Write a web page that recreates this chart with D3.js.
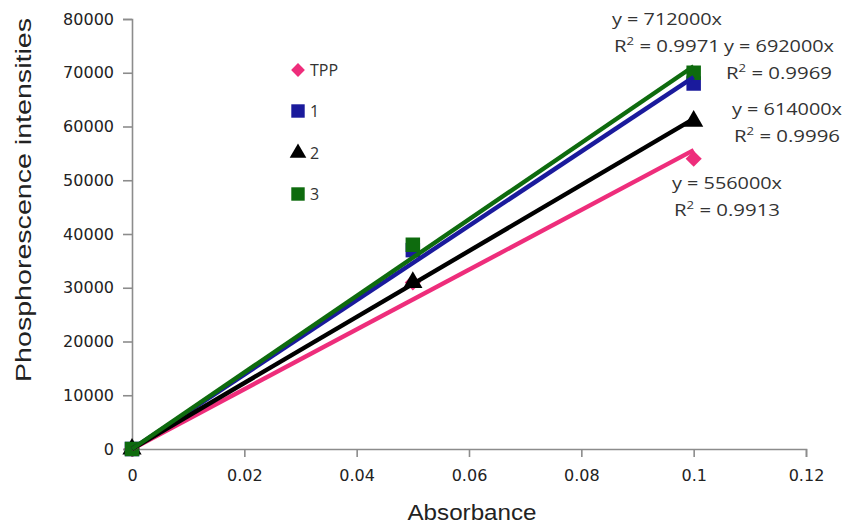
<!DOCTYPE html>
<html><head><meta charset="utf-8">
<script src="https://cdn.jsdelivr.net/npm/d3@7"></script>
<style>body{margin:0;background:#fff}svg{display:block}</style>
</head><body>
<svg id="c" width="846" height="526"></svg>
<script>
const xValues = [0, 0.05, 0.1];
const seriesNames = ["TPP", "1", "2", "3"];
const tppValues = [0, 31000, 54000];
const s1Values = [0, 37000, 68000];
const s2Values = [0, 31000, 61000];
const s3Values = [0, 38000, 70000];
const slopes = [556000, 692000, 614000, 712000];
const r2Labels = ["0.9913", "0.9969", "0.9996", "0.9971"];
const xTicks = [0, 0.02, 0.04, 0.06, 0.08, 0.1, 0.12];
const yTicks = [0, 10000, 20000, 30000, 40000, 50000, 60000, 70000, 80000];
const colors = ["#ee2d7b", "#1a1a9c", "#000000", "#0e6b0e"];
const symbols = [d3.symbolSquare, d3.symbolSquare, d3.symbolTriangle, d3.symbolSquare];
const rotations = [45, 0, 0, 0];
const allValues = [tppValues, s1Values, s2Values, s3Values];

const svg = d3.select("#c");
const x = d3.scaleLinear().domain([0, 0.12]).range([132, 806]);
const y = d3.scaleLinear().domain([0, 80000]).range([449, 19]);

const tickFont = "'DejaVu Sans', sans-serif";
const axisColor = "#8c8c8c";

// y axis
const ya = svg.append("g").attr("transform", "translate(132,0)")
  .call(d3.axisLeft(y).tickValues(yTicks).tickSize(9).tickPadding(9).tickFormat(d3.format("d")));
// x axis
const xa = svg.append("g").attr("transform", "translate(0,449)")
  .call(d3.axisBottom(x).tickValues(xTicks).tickSize(8).tickPadding(10).tickFormat(d => d === 0 ? "0" : String(+d.toFixed(2))));
[ya, xa].forEach(a => {
  a.selectAll("path").attr("stroke", axisColor).attr("stroke-width", 1.6);
  a.selectAll("line").attr("stroke", axisColor).attr("stroke-width", 1.6);
  a.selectAll("text").attr("font-family", tickFont).attr("font-size", 16).attr("fill", "#222");
});
xa.selectAll("text").attr("dy", "0.9em");

// axis titles
svg.append("text").attr("x", 472).attr("y", 520).attr("text-anchor", "middle")
  .attr("font-family", "'Liberation Sans', Arial, sans-serif").attr("font-size", 22)
  .attr("textLength", 129).attr("lengthAdjust", "spacingAndGlyphs").attr("fill", "#222").text("Absorbance");
svg.append("text").attr("transform", "translate(31,200) rotate(-90)").attr("text-anchor", "middle")
  .attr("font-family", "'Liberation Sans', Arial, sans-serif").attr("font-size", 22)
  .attr("textLength", 364).attr("lengthAdjust", "spacingAndGlyphs").attr("fill", "#222").text("Phosphorescence intensities");

// markers
allValues.forEach((vals, i) => {
  const sym = d3.symbol().type(symbols[i]).size(i === 0 ? 130 : (i === 2 ? 160 : 210));
  svg.append("g").selectAll("path").data(xValues.map((xv, j) => [xv, vals[j]])).join("path")
    .attr("transform", d => `translate(${x(d[0])},${y(d[1])}) rotate(${rotations[i]})`)
    .attr("d", sym()).attr("fill", colors[i]);
});

// trendlines
slopes.forEach((s, i) => {
  svg.append("line")
    .attr("x1", x(0)).attr("y1", y(0))
    .attr("x2", x(0.1)).attr("y2", y(s * 0.1))
    .attr("stroke", colors[i]).attr("stroke-width", 4.4);
});

// equation labels
const labelPos = [[727, 189], [779, 52], [787, 115], [667, 25]];
const eqFont = "'Open Sans', sans-serif";
slopes.forEach((s, i) => {
  const [lx, ly] = labelPos[i];
  svg.append("text").attr("x", lx).attr("y", ly).attr("text-anchor", "middle")
    .attr("font-family", eqFont).attr("font-size", 17).attr("fill", "#333")
    .attr("textLength", 110).attr("lengthAdjust", "spacingAndGlyphs")
    .text(`y = ${s}x`);
  const t = svg.append("text").attr("x", lx - 53).attr("y", ly + 27)
    .attr("font-family", eqFont).attr("font-size", 17).attr("fill", "#333");
  t.append("tspan").text("R");
  t.append("tspan").attr("font-size", 11).attr("dy", -7).text("2");
  t.append("tspan").attr("dy", 7).text(" = " + r2Labels[i]);
  t.attr("textLength", 106).attr("lengthAdjust", "spacingAndGlyphs");
});

// legend
const legendY = [70, 111, 153, 194];
seriesNames.forEach((n, i) => {
  const sym = d3.symbol().type(symbols[i]).size(i === 0 ? 95 : (i === 2 ? 120 : 180));
  svg.append("path").attr("transform", `translate(298,${legendY[i]}) rotate(${rotations[i]})`).attr("d", sym()).attr("fill", colors[i]);
  svg.append("text").attr("x", 310).attr("y", legendY[i] + 6)
    .attr("font-family", eqFont).attr("font-size", 16).attr("fill", "#333").text(n);
});
</script>
</body></html>
